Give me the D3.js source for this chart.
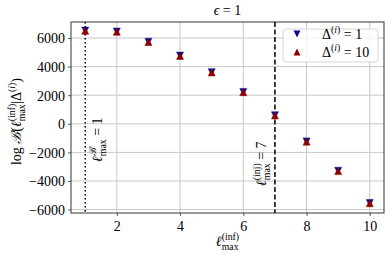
<!DOCTYPE html>
<html>
<head>
<meta charset="utf-8">
<script src="https://cdn.jsdelivr.net/npm/d3@7"></script>
<style>
  body { margin: 0; background: #fff; }
  text { font-family: "Liberation Serif", "DejaVu Serif", serif; fill: #000; white-space: pre; }
</style>
</head>
<body>
<script>
// data
const ellMax = [1, 2, 3, 4, 5, 6, 7, 8, 9, 10];
const logB_delta1 = [6520, 6450, 5740, 4770, 3610, 2230, 600, -1230, -3290, -5540];
const logB_delta10 = [6500, 6430, 5720, 4750, 3590, 2210, 580, -1250, -3310, -5560];
const xTicks = [2, 4, 6, 8, 10];
const yTicks = [-6000, -4000, -2000, 0, 2000, 4000, 6000];
const ellB = 1;    // dotted line
const ellInj = 7;  // dashed line

const W = 391, H = 259;
const mLeft = 71, mRight = 384, mTop = 22, mBottom = 213;

const svg = d3.select('body').append('svg')
  .attr('width', W).attr('height', H);

const x = d3.scaleLinear().domain([0.55, 10.45]).range([mLeft, mRight]);
const y = d3.scaleLinear().domain([-6240, 7120]).range([mBottom, mTop]);

// grid
svg.append('g').selectAll('line').data(xTicks).enter().append('line')
  .attr('x1', d => x(d)).attr('x2', d => x(d))
  .attr('y1', mTop).attr('y2', mBottom)
  .attr('stroke', '#c8c8c8').attr('stroke-width', 1);
svg.append('g').selectAll('line').data(yTicks).enter().append('line')
  .attr('x1', mLeft).attr('x2', mRight)
  .attr('y1', d => y(d)).attr('y2', d => y(d))
  .attr('stroke', '#c8c8c8').attr('stroke-width', 1);

// axes
const xAxis = d3.axisBottom(x).tickValues(xTicks).tickSize(3).tickPadding(5);
const yAxis = d3.axisLeft(y).tickValues(yTicks).tickSize(3).tickPadding(3)
  .tickFormat(d => d < 0 ? '\u2212' + Math.abs(d) : d);

const gx = svg.append('g').attr('transform', `translate(0,${mBottom})`).call(xAxis);
const gy = svg.append('g').attr('transform', `translate(${mLeft},0)`).call(yAxis);
[gx, gy].forEach(g => {
  g.select('.domain').remove();
  g.selectAll('line').attr('stroke', '#333').attr('stroke-width', 0.8);
  g.selectAll('text').attr('font-size', 14)
    .attr('font-family', '"Liberation Serif", "DejaVu Serif", serif').attr('fill', '#111');
});
gy.selectAll('text').attr('dy', '0.35em');

// frame
svg.append('rect')
  .attr('x', mLeft).attr('y', mTop).attr('width', mRight - mLeft).attr('height', mBottom - mTop)
  .attr('fill', 'none').attr('stroke', '#333').attr('stroke-width', 1);

// reference lines
svg.append('line')
  .attr('x1', x(ellB)).attr('x2', x(ellB)).attr('y1', mTop).attr('y2', mBottom)
  .attr('stroke', '#000').attr('stroke-width', 1.5).attr('stroke-dasharray', '1.5,2.5');
svg.append('line')
  .attr('x1', x(ellInj)).attr('x2', x(ellInj)).attr('y1', mTop).attr('y2', mBottom)
  .attr('stroke', '#000').attr('stroke-width', 1.5).attr('stroke-dasharray', '5,2.5');

// markers
const tri = (cx, cy, s, up) => {
  const h = s / 2;
  return up
    ? `M${cx},${cy - h}L${cx + h},${cy + h}L${cx - h},${cy + h}Z`
    : `M${cx},${cy + h}L${cx + h},${cy - h}L${cx - h},${cy - h}Z`;
};
svg.append('g').selectAll('path').data(ellMax).enter().append('path')
  .attr('d', (d, i) => tri(x(d), y(logB_delta1[i]), 7, false))
  .attr('fill', '#0a0a8c').attr('stroke', '#0a0a8c').attr('stroke-width', 0.5);
svg.append('g').selectAll('path').data(ellMax).enter().append('path')
  .attr('d', (d, i) => tri(x(d), y(logB_delta10[i]), 7, true))
  .attr('fill', '#8c0000').attr('stroke', '#8c0000').attr('stroke-width', 0.5);

// math-ish text helper
function mathText(parent, parts, fs) {
  const g = parent.append('g');
  let end = 0, prevStart = 0;
  parts.forEach(p => {
    const k = p.k === 'sup' || p.k === 'sub' ? 0.7 : 1;
    const dy = p.k === 'sup' ? -0.4 * fs : p.k === 'sub' ? 0.28 * fs : 0;
    const sx = p.stack ? prevStart : end;
    const t = g.append('text')
      .attr('x', sx).attr('y', dy)
      .attr('font-size', fs * k)
      .attr('font-style', p.i ? 'italic' : 'normal')
      .text(p.t);
    const w = t.node().getComputedTextLength();
    prevStart = sx;
    end = Math.max(end, sx + w);
  });
  return {g, width: end};
}

// title
const title = mathText(svg, [{t: '\u03f5', i: true}, {t: ' = 1'}], 14);
title.g.attr('transform', `translate(${(mLeft + mRight) / 2 - title.width / 2},15)`);

// x label
const xl = mathText(svg, [{t: '\u2113', i: true}, {t: '(inf)', k: 'sup'}, {t: 'max', k: 'sub', stack: true}], 14);
xl.g.attr('transform', `translate(${(mLeft + mRight) / 2 - xl.width / 2},246)`);

// y label
const yl = mathText(svg, [
  {t: 'log '}, {t: '\u212c', i: true}, {t: '('}, {t: '\u2113', i: true},
  {t: '(inf)', k: 'sup'}, {t: 'max', k: 'sub', stack: true},
  {t: '|\u0394'}, {t: '(', k: 'sup'}, {t: 'i', k: 'sup', i: true}, {t: ')', k: 'sup'}, {t: ')'}
], 14);
yl.g.attr('transform', `translate(21,${(mTop + mBottom) / 2 + 4 + yl.width / 2}) rotate(-90)`);

// line annotations
const aB = mathText(svg, [{t: '\u2113', i: true}, {t: '\u212c', k: 'sup', i: true}, {t: 'max', k: 'sub', stack: true}, {t: ' = 1'}], 14);
aB.g.attr('transform', `translate(102,162) rotate(-90)`);
const aI = mathText(svg, [{t: '\u2113', i: true}, {t: '(inj)', k: 'sup'}, {t: 'max', k: 'sub', stack: true}, {t: ' = 7'}], 14);
aI.g.attr('transform', `translate(266,186) rotate(-90)`);

// legend
const lg = svg.append('g');
lg.append('rect')
  .attr('x', 283).attr('y', 29).attr('width', 95).attr('height', 33).attr('rx', 3)
  .attr('fill', 'rgba(255,255,255,0.8)').attr('stroke', '#ccc').attr('stroke-width', 0.8);
lg.append('path').attr('d', tri(297, 34, 7, false)).attr('fill', '#0a0a8c');
lg.append('path').attr('d', tri(297, 52, 7, true)).attr('fill', '#8c0000');
const l1 = mathText(lg, [{t: '\u0394'}, {t: '(', k: 'sup'}, {t: 'i', k: 'sup', i: true}, {t: ')', k: 'sup'}, {t: ' = 1'}], 14);
l1.g.attr('transform', `translate(322,39)`);
const l2 = mathText(lg, [{t: '\u0394'}, {t: '(', k: 'sup'}, {t: 'i', k: 'sup', i: true}, {t: ')', k: 'sup'}, {t: ' = 10'}], 14);
l2.g.attr('transform', `translate(322,57)`);
</script>
</body>
</html>
